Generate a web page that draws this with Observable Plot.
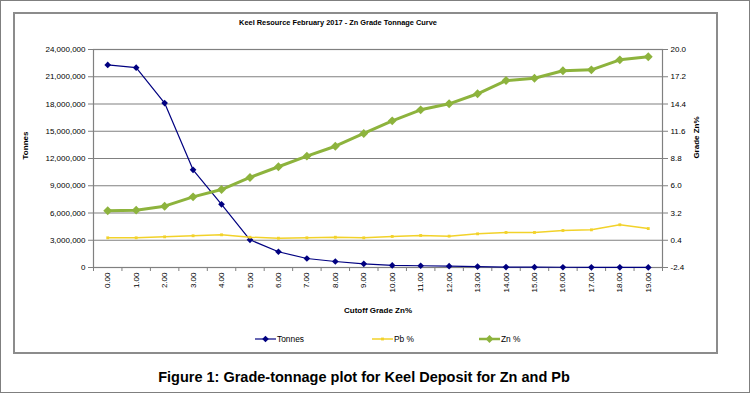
<!DOCTYPE html>
<html>
<head>
<meta charset="utf-8">
<script src="https://cdn.jsdelivr.net/npm/d3@7"></script>
<script src="https://cdn.jsdelivr.net/npm/@observablehq/plot@0.6"></script>
<style>
  html, body { margin: 0; padding: 0; background: #fff; }
  body { width: 750px; height: 393px; position: relative; overflow: hidden; font-family: "Liberation Sans", Arial, sans-serif; }
  #outer { position: absolute; left: 0; top: 0; width: 748px; height: 391px; border: 1px solid #7f7f7f; }
  #inner { position: absolute; left: 13px; top: 12px; width: 701px; height: 338px; border: 2px solid #8c8c8c; }
  #chart { position: absolute; left: 0; top: 0; }
  #title { position: absolute; left: 338px; top: 18px; transform: translateX(-50%); white-space: nowrap; font-weight: bold; font-size: 7.4px; }
  #caption { position: absolute; left: 364px; top: 369px; transform: translateX(-50%); white-space: nowrap; font-weight: bold; font-size: 14.5px; }
  .leg { position: absolute; top: 334px; font-size: 8.4px; display: flex; align-items: center; white-space: nowrap; }
  .leg svg { margin-right: 1px; }
  #chart svg [aria-label="x-axis label"] { font-weight: bold; }
</style>
</head>
<body>
<div id="outer"></div>
<div id="inner"></div>
<div id="title">Keel Resource February 2017 - Zn Grade Tonnage Curve</div>
<div id="chart"></div>
<div id="legend"></div>
<div id="caption">Figure 1: Grade-tonnage plot for Keel Deposit for Zn and Pb</div>
<script>
// Data
const cutoff = [0, 1, 2, 3, 4, 5, 6, 7, 8, 9, 10, 11, 12, 13, 14, 15, 16, 17, 18, 19];
const tonnes = [22300000, 22000000, 18100000, 10750000, 6950000, 3050000, 1730000, 990000, 660000, 400000,
                230000, 190000, 150000, 100000, 50000, 40000, 30000, 20000, 20000, 10000];
const pbPct = [0.65, 0.65, 0.75, 0.86, 0.96, 0.71, 0.61, 0.65, 0.71, 0.65,
               0.79, 0.89, 0.82, 1.06, 1.20, 1.20, 1.40, 1.47, 1.99, 1.60];
const znPct = [3.43, 3.49, 3.90, 4.86, 5.61, 6.85, 7.95, 9.04, 10.06, 11.37,
               12.67, 13.80, 14.42, 15.45, 16.81, 17.05, 17.81, 17.91, 18.94, 19.25];
const seriesNames = ["Tonnes", "Pb %", "Zn %"];
const leftTicks = [0, 3000000, 6000000, 9000000, 12000000, 15000000, 18000000, 21000000, 24000000];
const rightDomain = [-2.4, 20.0];
const leftDomain = [0, 24000000];
const leftLabel = "Tonnes";
const rightLabel = "Grade Zn%";

const colors = { "Tonnes": "#000080", "Pb %": "#f2d22a", "Zn %": "#8db33d" };

// map secondary-axis values into primary-axis space
const toLeft = v => (v - rightDomain[0]) / (rightDomain[1] - rightDomain[0]) * (leftDomain[1] - leftDomain[0]) + leftDomain[0];
const toRight = d => (d - leftDomain[0]) / (leftDomain[1] - leftDomain[0]) * (rightDomain[1] - rightDomain[0]) + rightDomain[0];

const tData = cutoff.map((c, i) => ({ c, y: tonnes[i] }));
const pData = cutoff.map((c, i) => ({ c, y: toLeft(pbPct[i]) }));
const zData = cutoff.map((c, i) => ({ c, y: toLeft(znPct[i]) }));
const boundaries = cutoff.map(c => c - 0.5).concat([cutoff[cutoff.length - 1] + 0.5]);

const plot = Plot.plot({
  width: 750,
  height: 330,
  marginTop: 49,
  marginBottom: 63,
  marginLeft: 93,
  marginRight: 88,
  style: { fontFamily: "'Liberation Sans', Arial, sans-serif", fontSize: "8px", color: "#000", background: "transparent" },
  x: { domain: [boundaries[0], boundaries[boundaries.length - 1]] },
  y: { domain: leftDomain },
  marks: [
    Plot.gridY(leftTicks, { stroke: "#808080", strokeOpacity: 1, strokeWidth: 1.2 }),
    Plot.frame({ stroke: "#808080", strokeWidth: 1.2 }),
    Plot.axisY({ ticks: leftTicks, tickFormat: d3.format(","), tickSize: 5, tickPadding: 3, stroke: "#808080", label: null }),
    Plot.axisY({ anchor: "right", ticks: leftTicks, tickFormat: d => toRight(d).toFixed(1), tickSize: 5, tickPadding: 3, stroke: "#808080", label: null }),
    Plot.text([leftLabel], { text: d => d, frameAnchor: "left", dx: -68, dy: -13, rotate: -90, textAnchor: "middle", fontWeight: "bold", fontSize: 8 }),
    Plot.text([rightLabel], { text: d => d, frameAnchor: "right", dx: 34, dy: -21, rotate: -90, textAnchor: "middle", fontWeight: "bold", fontSize: 8 }),
    Plot.axisX({ ticks: boundaries, tickFormat: () => "", tickSize: 4, stroke: "#808080", label: null }),
    Plot.axisX({ ticks: cutoff, tickFormat: d => d.toFixed(2), tickSize: 0, tickRotate: -90, tickPadding: 5,
                 label: "Cutoff Grade Zn%", labelAnchor: "center", labelOffset: 45, labelArrow: "none" }),
    Plot.line(tData, { x: "c", y: "y", stroke: colors["Tonnes"], strokeWidth: 1.2 }),
    Plot.dot(tData, { x: "c", y: "y", symbol: "diamond2", r: 3, fill: colors["Tonnes"], stroke: "none" }),
    Plot.line(pData, { x: "c", y: "y", stroke: colors["Pb %"], strokeWidth: 1.5 }),
    Plot.dot(pData, { x: "c", y: "y", symbol: "square", r: 1.6, fill: colors["Pb %"], stroke: "none" }),
    Plot.line(zData, { x: "c", y: "y", stroke: colors["Zn %"], strokeWidth: 3 }),
    Plot.dot(zData, { x: "c", y: "y", symbol: "diamond2", r: 4, fill: colors["Zn %"], stroke: "none" })
  ]
});
document.getElementById("chart").appendChild(plot);

// legend
const legendX = { "Tonnes": 255, "Pb %": 372, "Zn %": 479 };
const markerSym = { "Tonnes": ["diamond2", 3], "Pb %": ["square", 1.6], "Zn %": ["diamond2", 3.5] };
const lw = { "Tonnes": 1.2, "Pb %": 1.5, "Zn %": 2.5 };
const legend = document.getElementById("legend");
for (const name of seriesNames) {
  const item = document.createElement("div");
  item.className = "leg";
  item.style.left = legendX[name] + "px";
  const ns = "http://www.w3.org/2000/svg";
  const svg = document.createElementNS(ns, "svg");
  svg.setAttribute("width", 21); svg.setAttribute("height", 10);
  const line = document.createElementNS(ns, "line");
  line.setAttribute("x1", 0); line.setAttribute("x2", 21); line.setAttribute("y1", 5); line.setAttribute("y2", 5);
  line.setAttribute("stroke", colors[name]); line.setAttribute("stroke-width", lw[name]);
  svg.appendChild(line);
  const sym = markerSym[name][0] === "square" ? d3.symbolSquare : d3.symbolDiamond2;
  const r = markerSym[name][1];
  const path = document.createElementNS(ns, "path");
  path.setAttribute("d", d3.symbol(sym, Math.PI * r * r)());
  path.setAttribute("transform", "translate(10.5,5)");
  path.setAttribute("fill", colors[name]);
  svg.appendChild(path);
  item.appendChild(svg);
  const span = document.createElement("span");
  span.textContent = name;
  item.appendChild(span);
  legend.appendChild(item);
}
</script>
</body>
</html>
